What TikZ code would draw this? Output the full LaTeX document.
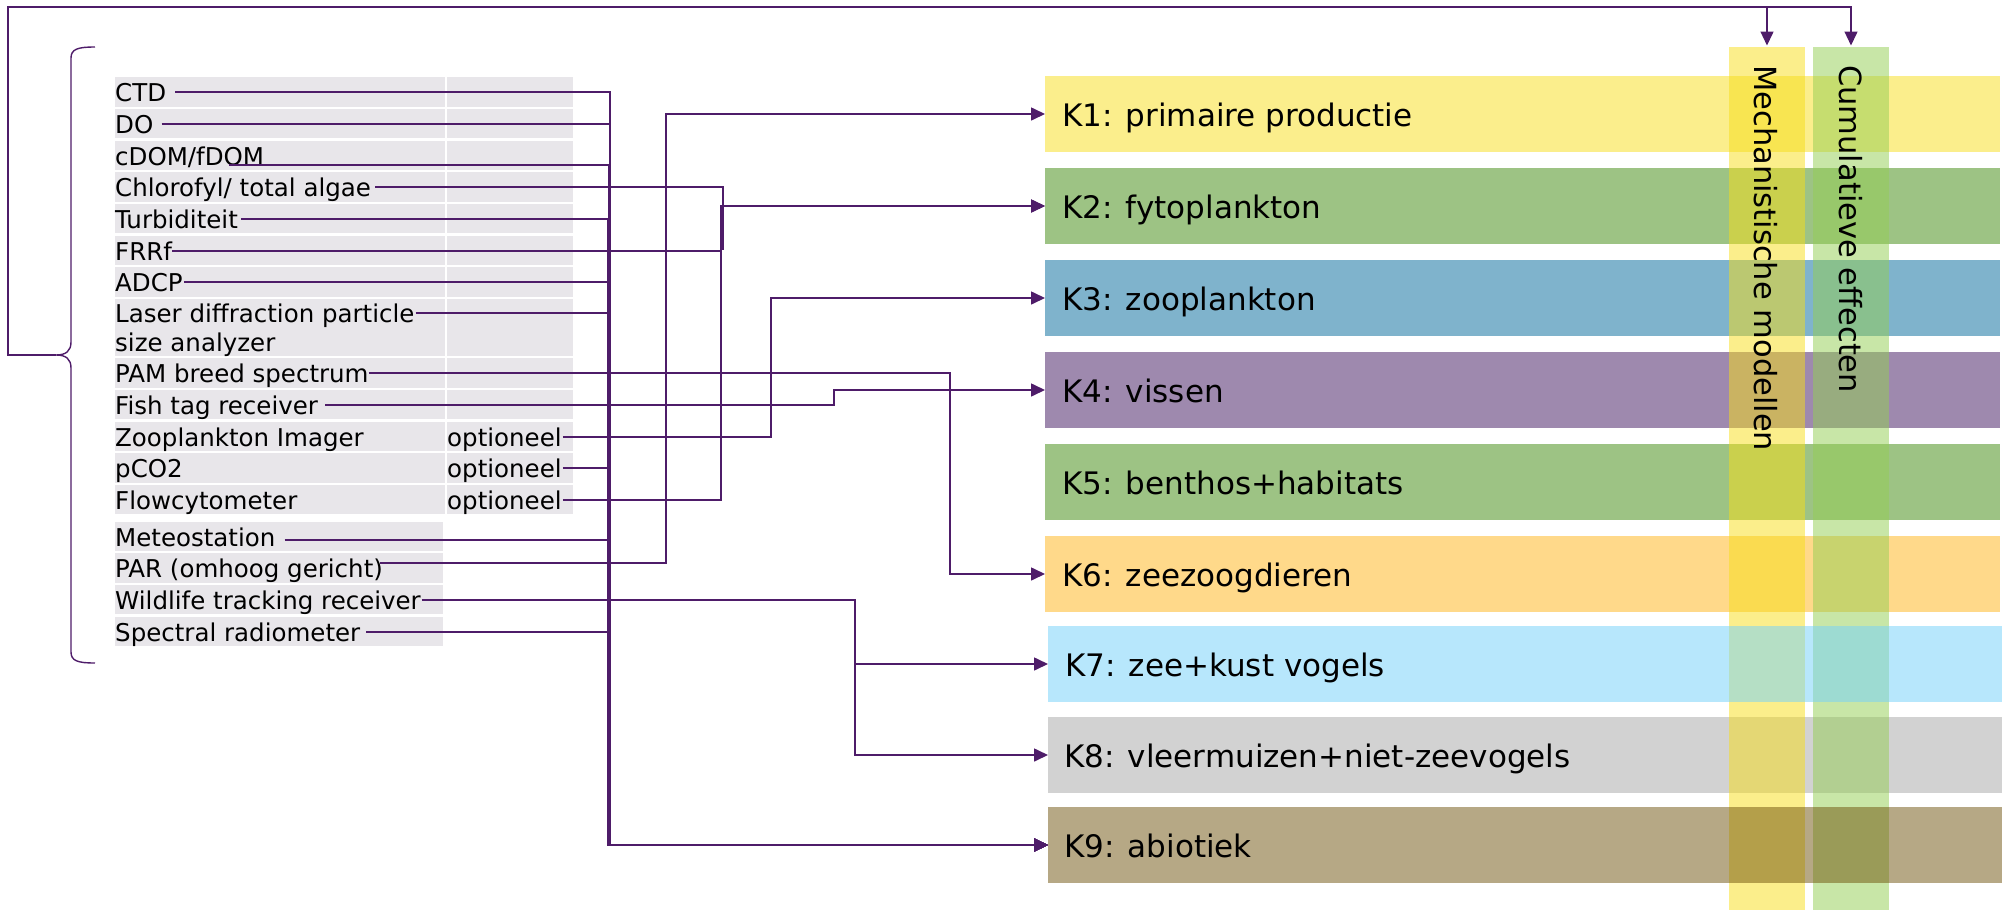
\documentclass[tikz,border=0pt]{standalone}
\usepackage{fontspec}
\setmainfont{DejaVu Sans}
\usetikzlibrary{arrows.meta}
\definecolor{lc}{RGB}{78,28,105}
\definecolor{rowc}{RGB}{232,230,234}
\definecolor{kA}{RGB}{251,238,140}
\definecolor{kB}{RGB}{157,195,132}
\definecolor{kC}{RGB}{127,179,204}
\definecolor{kD}{RGB}{158,137,174}
\definecolor{kF}{RGB}{255,217,138}
\definecolor{kG}{RGB}{119,210,249}
\definecolor{kH}{RGB}{210,210,210}
\definecolor{kI}{RGB}{109,81,11}
\definecolor{mechc}{RGB}{247,221,23}
\definecolor{cumc}{RGB}{148,206,84}
\begin{document}
\begin{tikzpicture}[x=1pt,y=-1pt,
  plain/.style={draw=lc, line width=1.5pt},
  conn/.style={draw=lc, line width=1.6pt, -{Triangle[length=14pt,width=13pt]}},
  busl/.style={conn, line width=2pt},
  lst/.style={font=\fontsize{24.5}{29}\selectfont, inner sep=0pt, anchor=west, text height=24pt, text depth=5pt},
  kbar/.style={inner sep=0pt, minimum height=76pt, anchor=west},
  klab/.style={font=\fontsize{31}{37}\selectfont, inner sep=0pt, anchor=west, text height=22.6pt, text depth=0pt},
  colbox/.style={inner sep=0pt, minimum width=76pt, minimum height=863pt, anchor=north, fill opacity=0.5},
  coltxt/.style={font=\fontsize{30.5}{36}\selectfont, inner sep=0pt, anchor=west, rotate=-90, text height=22.2pt, text depth=0pt}
]
\useasboundingbox (0,0) rectangle (2005,910);

% table backgrounds
\foreach \t/\b in {77/107,109/138,141/170,172/202,204/233,236/265,267/297,299/356,358/388,390/419,422/451,453/483,485/514}{
  \fill[rowc] (115,\t) rectangle (445,\b);
  \fill[rowc] (447,\t) rectangle (573,\b);
}
\foreach \t/\b in {522/551,553/583,585/614,617/646}{
  \fill[rowc] (115,\t) rectangle (443,\b);
}

% list texts
\node[lst] (ctd) at (115,92) {CTD};
\node[lst] (do) at (115,124) {DO};
\node[lst] (cdom) at (115,156) {cDOM/fDOM};
\node[lst] (chl) at (115,187) {Chlorofyl/ total algae};
\node[lst] (turb) at (115,219) {Turbiditeit};
\node[lst] (frrf) at (115,251) {FRRf};
\node[lst] (adcp) at (115,282) {ADCP};
\node[lst] (laser) at (115,313) {Laser diffraction particle};
\node[lst] (laserb) at (115,342) {size analyzer};
\node[lst] (pam) at (115,373) {PAM breed spectrum};
\node[lst] (fish) at (115,405) {Fish tag receiver};
\node[lst] (zoo) at (115,437) {Zooplankton Imager};
\node[lst] (pco) at (115,468) {pCO2};
\node[lst] (flow) at (115,500) {Flowcytometer};
\node[lst] (zooopt) at (447,437) {optioneel};
\node[lst] (pcoopt) at (447,468) {optioneel};
\node[lst] (flowopt) at (447,500) {optioneel};
\node[lst] (meteo) at (115,537) {Meteostation};
\node[lst] (par) at (115,568) {PAR (omhoog gericht)};
\node[lst] (wild) at (115,600) {Wildlife tracking receiver};
\node[lst] (spec) at (115,632) {Spectral radiometer};

% K bars (under the columns)
\node[kbar, fill=kA, minimum width=955pt] (k1) at (1045,114) {};
\node[kbar, fill=kB, minimum width=955pt] (k2) at (1045,206) {};
\node[kbar, fill=kC, minimum width=955pt] (k3) at (1045,298) {};
\node[kbar, fill=kD, minimum width=955pt] (k4) at (1045,390) {};
\node[kbar, fill=kB, minimum width=955pt] (k5) at (1045,482) {};
\node[kbar, fill=kF, minimum width=955pt] (k6) at (1045,574) {};
\node[kbar, fill=kH, minimum width=954pt] (k8) at (1048,755) {};

% columns
\node[colbox, fill=mechc] (mech) at (1767,47) {};
\node[colbox, fill=cumc, fill opacity=0.515] (cum) at (1851,47) {};

% K bars (over the columns)
\node[kbar, fill=kG, fill opacity=0.53, minimum width=954pt] (k7) at (1048,664) {};
\node[kbar, fill=kI, fill opacity=0.5, minimum width=954pt] (k9) at (1048,845) {};

% K labels
\node[klab] (k1t) at ([xshift=17pt,yshift=-1.5pt]k1.west) {K1: primaire productie};
\node[klab] (k2t) at ([xshift=17pt,yshift=-1.5pt]k2.west) {K2: fytoplankton};
\node[klab] (k3t) at ([xshift=17pt,yshift=-1.5pt]k3.west) {K3: zooplankton};
\node[klab] (k4t) at ([xshift=17pt,yshift=-1.5pt]k4.west) {K4: vissen};
\node[klab] (k5t) at ([xshift=17pt,yshift=-1.5pt]k5.west) {K5: benthos+habitats};
\node[klab] (k6t) at ([xshift=17pt,yshift=-1.5pt]k6.west) {K6: zeezoogdieren};
\node[klab] (k7t) at ([xshift=17pt,yshift=-1.5pt]k7.west) {K7: zee+kust vogels};
\node[klab] (k8t) at ([xshift=16pt,yshift=-1.5pt]k8.west) {K8: vleermuizen+niet-zeevogels};
\node[klab] (k9t) at ([xshift=16pt,yshift=-1.5pt]k9.west) {K9: abiotiek};

% column texts
\node[coltxt] (mecht) at (1765.5,65) {Mechanistische modellen};
\node[coltxt] (cumt) at (1850.5,65) {Cumulatieve effecten};

% brace and top connector
\draw[plain, line width=1.4pt] (95,47) .. controls (78,47) and (71,49) .. (71,58) -- (71,342)
  .. controls (71,351) and (66,355) .. (56,355)
  .. controls (66,355) and (71,359) .. (71,368) -- (71,652)
  .. controls (71,661) and (78,663) .. (95,663);
\coordinate (brtip) at (56,355);
\coordinate (mtop) at (1767,7);
\draw[conn, line width=1.4pt, shorten >=1.5pt] (brtip) -| (8,7) -| (cum.north);
\draw[conn, line width=1.4pt, shorten >=1.5pt] (mtop) -- (mech.north);

% abiotic bus -> K9
\draw[busl] ([xshift=9pt]ctd.east) -| ([xshift=-438.5pt]k9.west) -- (k9.west);
\draw[busl] ([xshift=8pt]do.east) -| ([xshift=-438.5pt]k9.west) -- (k9.west);
\draw[busl] ([xshift=-35pt,yshift=-9pt]cdom.east) -| ([xshift=-439pt]k9.west) -- (k9.west);
\draw[busl] ([xshift=3pt]turb.east) -| ([xshift=-440.5pt]k9.west) -- (k9.west);
\draw[busl] ([xshift=1pt]adcp.east) -| ([xshift=-438.5pt]k9.west) -- (k9.west);
\draw[busl] ([xshift=1pt]laser.east) -| ([xshift=-439.5pt]k9.west) -- (k9.west);
\draw[busl] ([xshift=1pt]pcoopt.east) -| ([xshift=-438.5pt]k9.west) -- (k9.west);
\draw[busl] ([xshift=9pt,yshift=-3pt]meteo.east) -| ([xshift=-438.5pt]k9.west) -- (k9.west);
\draw[busl] ([xshift=6pt]spec.east) -| ([xshift=-438.5pt]k9.west) -- (k9.west);

% K1
\draw[conn] ([xshift=-3pt,yshift=5pt]par.east) -| ([xshift=-379pt]k1.west) -- (k1.west);
% K2
\coordinate (cj) at (723,250);
\draw[plain] ([xshift=4pt]chl.east) -| (cj);
\draw[conn] (frrf.east) -| ([xshift=-324pt]k2.west) -- (k2.west);
\draw[conn] ([xshift=1pt]flowopt.east) -| ([xshift=-324pt]k2.west) -- (k2.west);
% K3
\draw[conn] ([xshift=1pt]zooopt.east) -| ([xshift=-274pt]k3.west) -- (k3.west);
% K4
\draw[conn] ([xshift=7pt]fish.east) -| ([xshift=-211pt]k4.west) -- (k4.west);
% K6
\draw[conn] (pam.east) -| ([xshift=-95pt]k6.west) -- (k6.west);
% K7, K8
\draw[conn] ([xshift=1pt]wild.east) -| ([xshift=-193pt]k7.west) -- (k7.west);
\draw[conn] ([xshift=1pt]wild.east) -| ([xshift=-193pt]k8.west) -- (k8.west);
\end{tikzpicture}
\end{document}
